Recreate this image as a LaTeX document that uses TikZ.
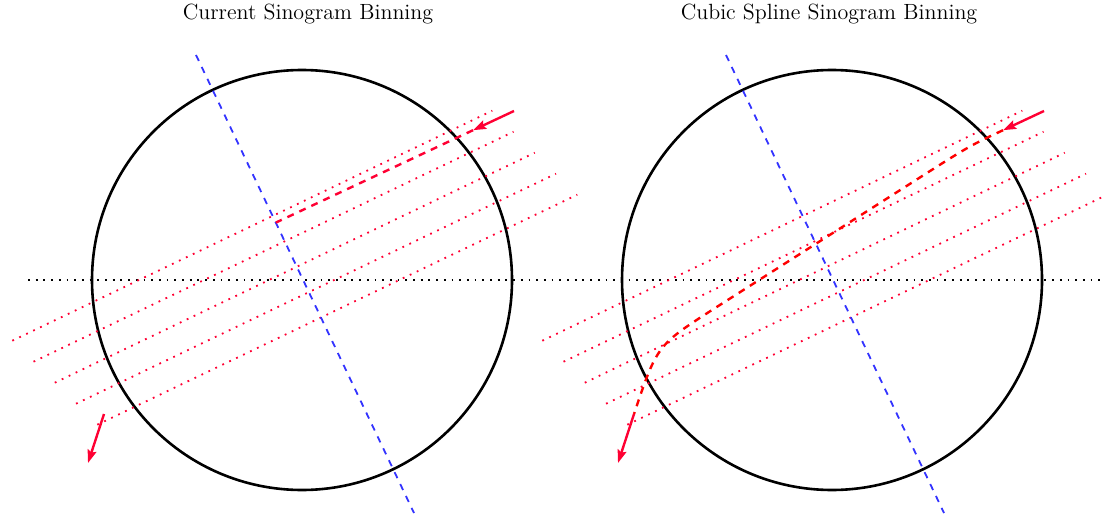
\documentclass[tikz,border=0pt]{standalone}
\usetikzlibrary{arrows.meta}
\definecolor{binred}{RGB}{255,0,51}
\definecolor{curvered}{RGB}{255,0,0}
\definecolor{axisblue}{RGB}{51,51,255}
\begin{document}
\begin{tikzpicture}[x=0.5pt,y=-0.5pt,
  ring/.style={line width=1.3pt},
  axisline/.style={axisblue, line width=0.9pt, dash pattern=on 3.3pt off 3.3pt},
  binline/.style={binred, line width=0.9pt, dash pattern=on 0.9pt off 2.95pt},
  horizon/.style={black, line width=0.9pt, dash pattern=on 0.9pt off 2.95pt},
  lor/.style={binred, line width=1.2pt, dash pattern=on 3.5pt off 3.1pt},
  splinelor/.style={curvered, line width=1.2pt, dash pattern=on 3.5pt off 3.1pt},
  photon/.style={binred, line width=1.2pt, -{Stealth[length=6.5pt,width=4.5pt,inset=1pt]}},
  title/.style={font=\fontsize{11}{13}\selectfont, anchor=base, inner sep=0pt}
]
\useasboundingbox (0,0) rectangle (1106,518);

% titles
\node[title] (t1) at (308,20) {Current Sinogram Binning};
\node[title] (t2) at (829,20) {Cubic Spline Sinogram Binning};

% horizontal dotted axis
\coordinate (h1) at (28,280);
\coordinate (h2) at (1106,280);
\draw[horizon] (h1) -- (h2);

% ---------- left panel ----------
\coordinate (Lc) at (302,280);
\draw[ring] (Lc) circle[radius=105pt];
\foreach \k in {0,...,4}{
  \draw[binline] ({12.3+21.25*\k},{340.7+21*\k}) -- ++(480,-230);
}
\coordinate (La1) at (196,55);
\coordinate (La2) at (414,513);
\draw[axisline] (La1) -- (La2);

\coordinate (Lin) at (514,111);
\coordinate (Ltip) at (473,130.2);
\coordinate (Lhit) at (275.8,222.6);
\coordinate (Lout) at (104,414);
\coordinate (Lend) at (88,463);
\draw[lor] (Ltip) -- (Lhit);
\draw[photon] (Lin) -- (Ltip);
\draw[photon] (Lout) -- (Lend);

% ---------- right panel ----------
\coordinate (Rc) at (832,280);
\draw[ring] (Rc) circle[radius=105pt];
\foreach \k in {0,...,4}{
  \draw[binline] ({542.3+21.25*\k},{340.7+21*\k}) -- ++(480,-230);
}
\coordinate (Ra1) at (726,55);
\coordinate (Ra2) at (944,513);
\draw[axisline] (Ra1) -- (Ra2);

\coordinate (Rin) at (1044,111);
\coordinate (Rtip) at (1003,130.2);
\coordinate (Rk1) at (969.2,146);
\coordinate (Ra) at (910,183.8);
\coordinate (Rb) at (712,310);
\coordinate (Rk2) at (657,345.5);
\coordinate (Rout) at (634,414);
\coordinate (Rend) at (618,463);
\draw[splinelor] (Rtip) .. controls (Rk1) .. (Ra) -- (Rb) .. controls (Rk2) .. (Rout);
\draw[photon] (Rin) -- (Rtip);
\draw[photon] (Rout) -- (Rend);
\end{tikzpicture}
\end{document}
